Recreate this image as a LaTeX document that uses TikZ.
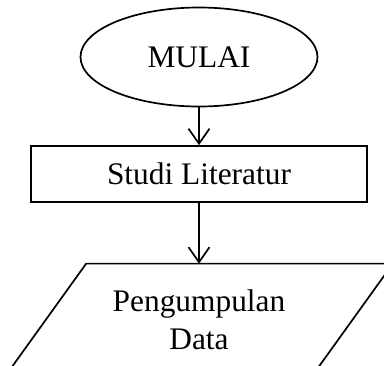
\documentclass[tikz,border=0pt]{standalone}
\usepackage{fontspec}
\setmainfont{Liberation Serif}
\usetikzlibrary{arrows.meta,positioning,calc,shapes.geometric}

\begin{document}
\begin{tikzpicture}[x=1bp,y=1bp,
  box/.style={draw,line width=1.7bp,align=center,inner sep=0pt,font=\fontsize{31.5}{37.8}\selectfont},
  start/.style={box,ellipse,minimum width=237bp,minimum height=99bp},
  process/.style={box,rectangle,minimum width=336bp,minimum height=56bp},
  data/.style={box,draw=none,rectangle,minimum width=305bp,minimum height=111bp},
  arrow/.style={-{Straight Barb[length=15bp,width=21bp,line width=1.7bp]},line width=1.7bp}
]
\clip (0,0) rectangle (384,366);
\node[start] (mulai) at (199,309) {MULAI};
\node[process] (studi) at (199,192) {Studi Literatur};
\node[data] (kumpul) at (199,46) {Pengumpulan\\Data};
% slanted sides of the data box
\draw[line width=1.7bp] ($(kumpul.north west)+(40.5,0)$) -- ($(kumpul.north east)+(40.5,0)$)
  -- ($(kumpul.south east)+(-40.5,0)$) -- ($(kumpul.south west)+(-40.5,0)$) -- cycle;
\draw[arrow] (mulai.south) -- (studi.north);
\draw[arrow] (studi.south) -- (kumpul.north);
\end{tikzpicture}
\end{document}
